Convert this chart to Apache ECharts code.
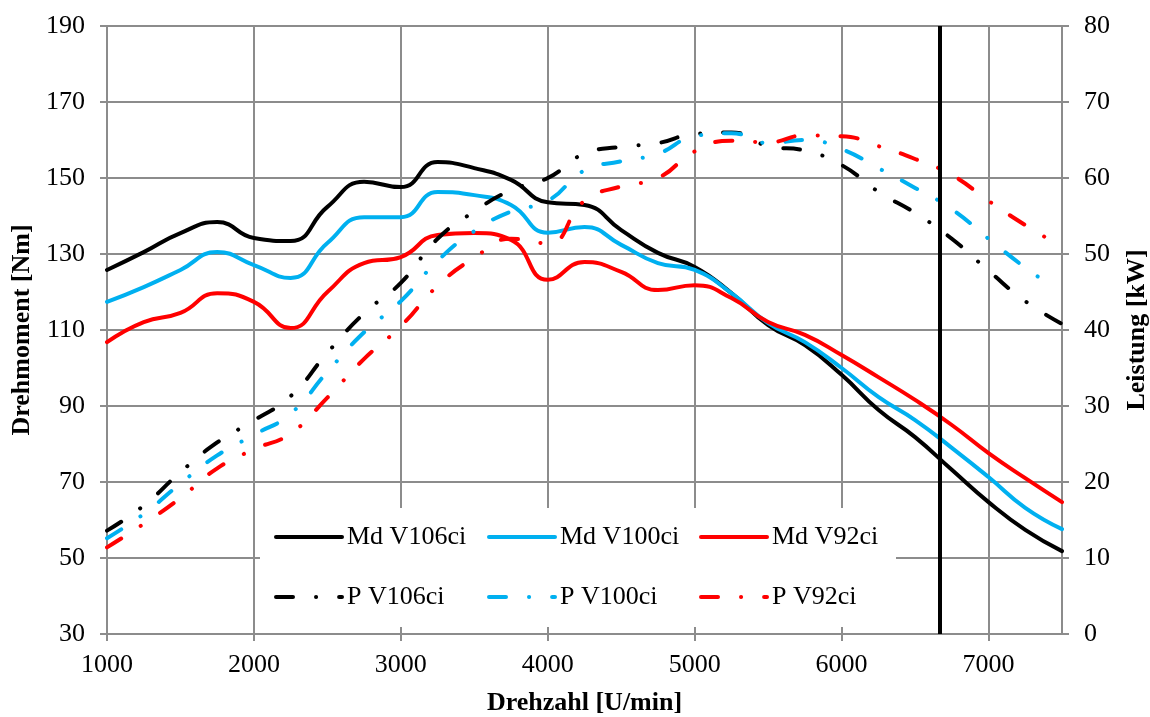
<!DOCTYPE html>
<html>
<head>
<meta charset="utf-8">
<script src="https://cdn.jsdelivr.net/npm/echarts@6/dist/echarts.min.js"></script>
<style>
  html, body { margin: 0; padding: 0; background: #fff; }
  #main { width: 1150px; height: 717px; }
</style>
</head>
<body>
<div id="main"></div>
<script>
// Drehzahl-Stuetzstellen
var rpm = [1000, 1250, 1500, 1750, 2000, 2250, 2500, 2750, 3000, 3250, 3500, 3750, 4000,
  4250, 4500, 4750, 5000, 5250, 5500, 5750, 6000, 6250, 6500, 6750, 7000, 7250, 7500];
var rpmP100 = [1000, 1250, 1500, 1750, 2000, 2250, 2500, 2750, 3000, 3250, 3500, 3750, 4000,
  4250, 4500, 4750, 5000, 5250, 5500, 5750, 6000, 6250, 6500, 6750, 7000, 7250, 7400];
var rpmP92 = [1000, 1250, 1500, 1750, 2000, 2250, 2500, 2750, 3000, 3250, 3500, 3750, 4000,
  4250, 4500, 4750, 5000, 5250, 5500, 5750, 6000, 6250, 6500, 6750, 7000, 7250, 7450];

// Drehmoment [Nm]
var mdV106 = [125.8, 130.5, 135.5, 138.4, 134.2, 133.4, 142.4, 149.0, 147.6, 154.2, 152.6, 149.5, 143.6,
  142.9, 136.3, 130.3, 126.6, 119.7, 111.3, 106.0, 98.2, 89.0, 81.8, 73.2, 64.7, 57.4, 51.8];
var mdV100 = [117.4, 121.3, 125.8, 130.5, 127.1, 123.7, 132.9, 139.7, 139.7, 146.3, 145.5, 142.9, 135.6,
  137.1, 132.4, 127.6, 125.8, 119.7, 111.8, 106.8, 100.0, 92.4, 86.3, 79.0, 71.3, 63.2, 57.6];
var mdV92 = [106.8, 112.1, 114.5, 119.7, 117.4, 110.5, 120.0, 127.6, 129.2, 135.0, 135.5, 133.7, 123.2,
  127.9, 125.3, 120.5, 121.8, 118.4, 112.1, 108.7, 103.4, 97.6, 91.6, 85.0, 77.6, 71.0, 64.7];

// Leistung [kW]
var pV106 = [13.6, 16.9, 21.3, 25.2, 28.1, 31.3, 37.0, 42.2, 46.2, 52.0, 55.6, 58.4, 60.0,
  63.2, 64.1, 64.6, 65.8, 66.0, 64.2, 63.6, 61.7, 58.2, 55.4, 52.0, 47.8, 43.8, 40.8];
var pV100 = [12.6, 15.8, 19.8, 23.5, 26.2, 29.0, 34.5, 39.7, 43.8, 49.1, 53.0, 55.6, 57.0,
  61.0, 62.2, 63.2, 65.5, 65.9, 64.6, 65.0, 63.8, 61.3, 58.7, 55.9, 52.0, 48.2, 46.2];
var pV92 = [11.4, 14.5, 17.9, 21.8, 24.3, 26.4, 31.1, 36.2, 40.5, 45.8, 49.5, 52.0, 51.4,
  57.0, 58.9, 60.0, 63.5, 64.9, 64.7, 65.6, 65.5, 64.2, 62.5, 60.4, 57.0, 53.8, 51.5];

var xTicks = [1000, 2000, 3000, 4000, 5000, 6000, 7000];
var markerRpm = 6665;

var FONT = 'Liberation Serif';
var GRID = '#8c8c8c';
var dashDot = [17, 23, 0.1, 23];

function pairs(xs, ys) {
  var out = [];
  for (var i = 0; i < xs.length; i++) out.push([xs[i], ys[i]]);
  return out;
}

function plain(v) { return String(v); }

function lineSeries(name, xs, ys, color, axis, dashed) {
  return {
    name: name,
    type: 'line',
    yAxisIndex: axis,
    data: pairs(xs, ys),
    smooth: 0.5,
    symbol: 'none',
    silent: true,
    lineStyle: { color: color, width: 4, type: dashed ? dashDot : 'solid', cap: 'round' },
    itemStyle: { color: color }
  };
}

// einzelne Legenden-Eintraege (3 Spalten x 2 Zeilen)
function legendItem(name, left, top) {
  return {
    data: [name],
    left: left,
    top: top,
    padding: 0,
    itemWidth: 66,
    itemHeight: 14,
    selectedMode: false,
    itemStyle: { opacity: 0 },
    lineStyle: { width: 4 },
    textStyle: { fontFamily: FONT, fontSize: 26, color: '#000', lineHeight: 26 }
  };
}

var series = [
  lineSeries('Md V106ci', rpm, mdV106, '#000000', 0, false),
  lineSeries('Md V100ci', rpm, mdV100, '#00b0f0', 0, false),
  lineSeries('Md V92ci', rpm, mdV92, '#ff0000', 0, false),
  lineSeries('P V106ci', rpm, pV106, '#000000', 1, true),
  lineSeries('P V100ci', rpmP100, pV100, '#00b0f0', 1, true),
  lineSeries('P V92ci', rpmP92, pV92, '#ff0000', 1, true)
];
// senkrechte Markierung
series[0].markLine = {
  silent: true,
  symbol: 'none',
  label: { show: false },
  lineStyle: { color: '#000', width: 4, type: 'solid' },
  data: [{ xAxis: markerRpm }]
};

var myChart = echarts.init(document.getElementById('main'));
var option = {
  animation: false,
  backgroundColor: '#fff',
  grid: { left: 107, right: 88, top: 26, bottom: 83, outerBoundsMode: 'none', containLabel: false },
  graphic: [{
    type: 'rect',
    z: 1,
    shape: { x: 260, y: 508, width: 636, height: 119 },
    style: { fill: '#fff' }
  }],
  legend: [
    legendItem('Md V106ci', 274, 524),
    legendItem('Md V100ci', 487, 524),
    legendItem('Md V92ci', 699, 524),
    legendItem('P V106ci', 274, 584),
    legendItem('P V100ci', 487, 584),
    legendItem('P V92ci', 699, 584)
  ],
  xAxis: {
    type: 'value',
    min: 1000,
    max: 7500,
    interval: 1000,
    name: 'Drehzahl [U/min]',
    nameLocation: 'middle',
    nameGap: 56,
    nameTextStyle: { fontFamily: FONT, fontSize: 26, fontWeight: 'bold', color: '#000' },
    axisLine: { show: true, lineStyle: { color: GRID, width: 2 } },
    axisTick: { show: true, length: 7, lineStyle: { color: GRID, width: 2 }, customValues: xTicks },
    axisLabel: { fontFamily: FONT, fontSize: 26, color: '#000', margin: 18, customValues: xTicks, formatter: plain },
    splitLine: { show: true, lineStyle: { color: GRID, width: 2 } }
  },
  yAxis: [{
    type: 'value',
    min: 30,
    max: 190,
    interval: 20,
    name: 'Drehmoment [Nm]',
    nameLocation: 'middle',
    nameRotate: 90,
    nameGap: 70,
    nameTextStyle: { fontFamily: FONT, fontSize: 26, fontWeight: 'bold', color: '#000' },
    axisLine: { show: true, lineStyle: { color: GRID, width: 2 } },
    axisTick: { show: true, length: 7, lineStyle: { color: GRID, width: 2 } },
    axisLabel: { fontFamily: FONT, fontSize: 26, color: '#000', margin: 22, formatter: plain },
    splitLine: { show: true, lineStyle: { color: GRID, width: 2 } }
  }, {
    type: 'value',
    min: 0,
    max: 80,
    interval: 10,
    name: 'Leistung [kW]',
    nameLocation: 'middle',
    nameRotate: 90,
    nameGap: 62,
    nameTextStyle: { fontFamily: FONT, fontSize: 26, fontWeight: 'bold', color: '#000' },
    axisLine: { show: true, lineStyle: { color: GRID, width: 2 } },
    axisTick: { show: true, length: 7, lineStyle: { color: GRID, width: 2 } },
    axisLabel: { fontFamily: FONT, fontSize: 26, color: '#000', margin: 22, formatter: plain },
    splitLine: { show: false }
  }],
  series: series
};
myChart.setOption(option);
</script>
</body>
</html>
